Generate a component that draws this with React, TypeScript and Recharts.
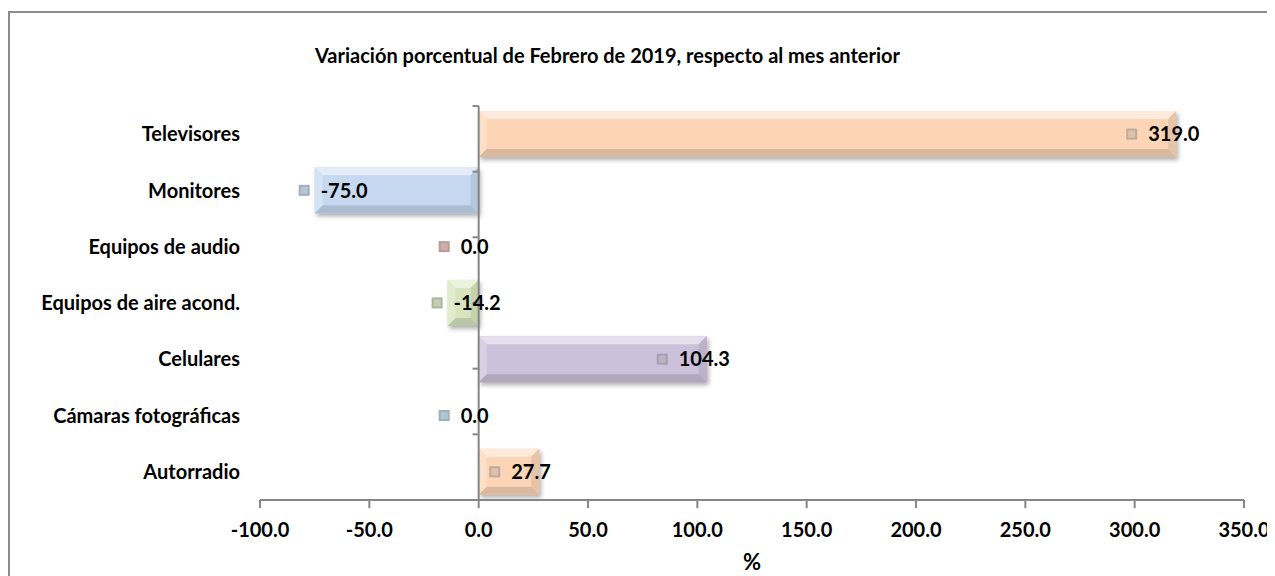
import { BarChart, Bar, XAxis, YAxis, Cell, LabelList, ReferenceLine } from "recharts";

const categories = [
  "Televisores",
  "Monitores",
  "Equipos de audio",
  "Equipos de aire acond.",
  "Celulares",
  "Cámaras fotográficas",
  "Autorradio",
];
const values = [319.0, -75.0, 0.0, -14.2, 104.3, 0.0, 27.7];
const barColors = ["#FBD5B6", "#C6D9F1", "#E6B9B8", "#D7E4BD", "#CCC1DA", "#B7DEE8", "#FBD5B6"];
const xTicks = [-100, -50, 0, 50, 100, 150, 200, 250, 300, 350];
const boundaries = [0, 1, 2, 3, 4, 5, 6, 7];

const data = categories.map((name, i) => ({ name, value: values[i] }));

const FONT = "Lato, 'Liberation Sans', sans-serif";
const AXIS_GRAY = "#868686";

const hexToRgb = (hex: string) => {
  const n = parseInt(hex.slice(1), 16);
  return [(n >> 16) & 255, (n >> 8) & 255, n & 255];
};
const mix = (hex: string, other: string, t: number) => {
  const a = hexToRgb(hex);
  const b = hexToRgb(other);
  const c = a.map((v, i) => Math.round(v + (b[i] - v) * t));
  return `rgb(${c[0]},${c[1]},${c[2]})`;
};

const BevelBar = (props: any) => {
  const { x, y, width, height, fill, index } = props;
  const x0 = width < 0 ? x + width : x;
  const w = Math.abs(width);
  if (w < 0.5) return null;
  const b = Math.min(8, w / 2, height / 2);
  const x1 = x0 + w;
  const y1 = y + height;
  const fid = `shadow-${index}`;
  return (
    <g>
      <defs>
        <filter id={fid} x="-10%" y="-20%" width="130%" height="160%">
          <feGaussianBlur stdDeviation="2" />
        </filter>
      </defs>
      <rect x={x0 + 2} y={y + 3} width={w} height={height} fill="rgba(0,0,0,0.3)" filter={`url(#${fid})`} />
      <rect x={x0} y={y} width={w} height={height} fill={fill} />
      <polygon points={`${x0},${y} ${x1},${y} ${x1 - b},${y + b} ${x0 + b},${y + b}`} fill={mix(fill, "#ffffff", 0.5)} />
      <polygon points={`${x0},${y} ${x0 + b},${y + b} ${x0 + b},${y1 - b} ${x0},${y1}`} fill={mix(fill, "#ffffff", 0.25)} />
      <polygon points={`${x1},${y} ${x1},${y1} ${x1 - b},${y1 - b} ${x1 - b},${y + b}`} fill={mix(fill, "#000000", 0.08)} />
      <polygon points={`${x0},${y1} ${x1},${y1} ${x1 - b},${y1 - b} ${x0 + b},${y1 - b}`} fill={mix(fill, "#000000", 0.13)} />
    </g>
  );
};

const ValueLabel = (props: any) => {
  const { x, y, width, height, value, index } = props;
  const end = x + width;
  const cy = y + height / 2;
  let textX: number;
  if (value > 0) textX = end - 28;
  else if (value === 0) textX = end - 18;
  else textX = end + 6;
  const mx = textX - 22;
  const base = barColors[index];
  const mc = mix(base, "#7a7a7a", 0.45);
  return (
    <g>
      <rect x={mx} y={cy - 5.5} width={11} height={11} fill={mc} />
      <rect x={mx + 2} y={cy - 3.5} width={7} height={7} fill={mix(base, "#8a8a8a", 0.25)} />
      <text x={textX} y={cy} dy="0.36em" fontFamily={FONT} fontWeight={700} fontSize={20} fill="#000">
        {Number(value).toFixed(1)}
      </text>
    </g>
  );
};

const CategoryTick = (props: any) => {
  const { x, y, payload } = props;
  return (
    <text x={x} y={y} dy="0.36em" textAnchor="end" fontFamily={FONT} fontWeight={700} fontSize={20} fill="#000">
      {payload.value}
    </text>
  );
};

export default function App() {
  return (
    <div style={{ position: "relative", width: 1267, height: 568 }}>
      <div
        style={{
          position: "absolute",
          left: 0,
          top: 3,
          width: 1265,
          height: 563,
          borderLeft: "2px solid #8c8c8c",
          borderTop: "2px solid #8c8c8c",
        }}
      />
      <div
        style={{
          position: "absolute",
          left: 307,
          top: 35,
          fontFamily: FONT,
          fontWeight: 700,
          fontSize: 20,
          lineHeight: "24px",
          whiteSpace: "nowrap",
          color: "#000",
        }}
      >
        Variación porcentual de Febrero de 2019, respecto al mes anterior
      </div>
      <div style={{ position: "absolute", left: 0, top: 0 }}>
        <BarChart
          width={1267}
          height={568}
          data={data}
          layout="vertical"
          margin={{ top: 98, right: 31, bottom: 4, left: 12 }}
          barCategoryGap="9%"
        >
          <XAxis
            type="number"
            domain={[-100, 350]}
            ticks={xTicks}
            allowDataOverflow
            tickFormatter={(v: number) => v.toFixed(1)}
            axisLine={{ stroke: AXIS_GRAY, strokeWidth: 2 }}
            tickLine={{ stroke: AXIS_GRAY, strokeWidth: 2 }}
            tickSize={8}
            tickMargin={15}
            height={72}
            tick={{ fontFamily: FONT, fontWeight: 700, fontSize: 20, fill: "#000" }}
            label={{
              value: "%",
              position: "insideBottom",
              offset: 2,
              fontFamily: FONT,
              fontWeight: 700,
              fontSize: 22,
              fill: "#000",
            }}
          />
          <YAxis
            yAxisId="cat"
            type="category"
            dataKey="name"
            width={240}
            axisLine={false}
            tickLine={false}
            tickSize={0}
            tickMargin={20}
            tick={<CategoryTick />}
          />
          <YAxis yAxisId="num" type="number" domain={[0, 7]} hide />
          <ReferenceLine yAxisId="cat" x={0} stroke={AXIS_GRAY} strokeWidth={2} />
          {boundaries.map((b) => (
            <ReferenceLine
              key={b}
              yAxisId="num"
              segment={[
                { x: -2.8, y: b },
                { x: 0, y: b },
              ]}
              stroke={AXIS_GRAY}
              strokeWidth={2}
            />
          ))}
          <Bar yAxisId="cat" dataKey="value" isAnimationActive={false} shape={<BevelBar />}>
            {data.map((d, i) => (
              <Cell key={d.name} fill={barColors[i]} />
            ))}
            <LabelList dataKey="value" content={<ValueLabel />} />
          </Bar>
        </BarChart>
      </div>
    </div>
  );
}
